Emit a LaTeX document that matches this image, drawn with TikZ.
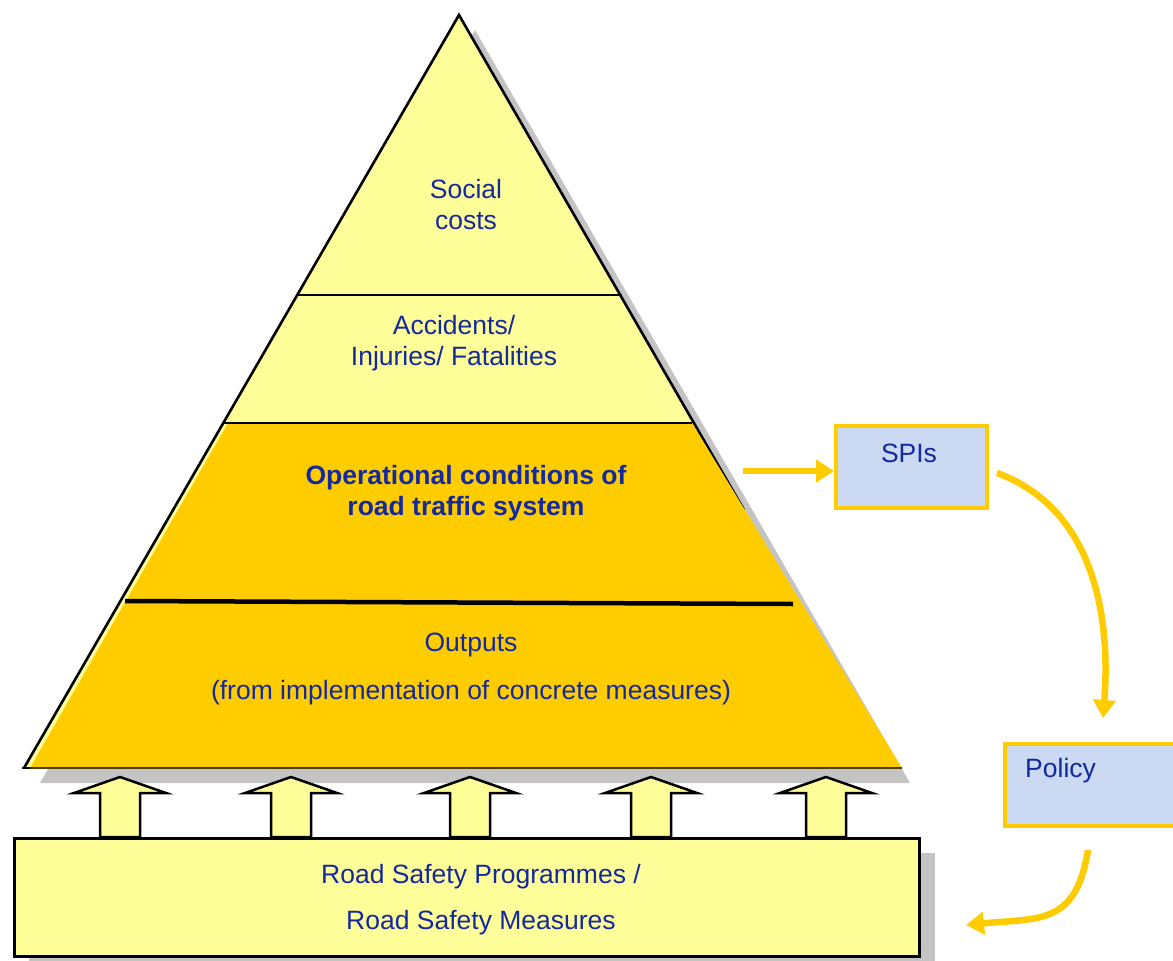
\documentclass[tikz,border=0pt]{standalone}
\usepackage{fontspec}
\setmainfont{Liberation Sans}
\usetikzlibrary{arrows.meta}
\definecolor{lyellow}{HTML}{FFFF99}
\definecolor{gold}{HTML}{FFCC00}
\definecolor{shadowgray}{HTML}{C4C4C4}
\definecolor{txtblue}{RGB}{20,40,160}
\definecolor{lblue}{HTML}{CCD9F3}
\tikzset{
  lbl/.style={text=txtblue, font=\fontsize{26.5}{31}\selectfont, align=center, inner sep=0pt},
  upar/.style={fill=lyellow, draw=black, line width=2.5pt, line join=miter},
  bluebox/.style={fill=lblue, draw=gold, line width=4pt, inner sep=0pt, anchor=north west},
  flow/.style={draw=gold, line width=6.5pt, -{Triangle[length=18pt,width=22pt]}},
}
\begin{document}
\begin{tikzpicture}[x=1pt,y=-1pt]
\useasboundingbox (0,0) rectangle (1173,961);
\begin{scope}
\clip (0,0) rectangle (1173,961);
% pyramid shadow
\fill[shadowgray] (475,30) -- (40,783) -- (910,783) -- cycle;
% pyramid body
\fill[lyellow] (459,15) -- (24,768) -- (894,768) -- cycle;
\draw[black, line width=2.6pt, line join=miter] (744,510) -- (459,15) -- (24,768);
\fill[gold] (228,423) -- (692,423) -- (902,768) -- (30,768) -- cycle;
\draw[black, line width=2.6pt] (22,768) -- (30,768);
\draw[black!70!gold, line width=1.5pt] (30,768) -- (902,768);
\draw[black, line width=1.5pt] (297,295) -- (622,295);
\draw[black, line width=1.5pt] (224,423) -- (692,423);
\draw[black, line width=4.5pt] (125,601) -- (793,604);
% pyramid texts
\node[lbl] (social) at (466,205) {Social\\costs};
\node[lbl] (acc) at (454,343) {Accidents/\\Injuries/ Fatalities};
\node[lbl, font=\fontsize{26.5}{31}\bfseries] (oper) at (466,493) {Operational conditions of\\road traffic system};
\node[lbl] (outp) at (471,669) {Outputs\\[17pt](from implementation of concrete measures)};
% bottom box shadow
\fill[shadowgray] (29,853) rectangle (935,975);
% up arrows
\foreach \c/\n in {120/a1,291/a2,470/a3,651/a4,826/a5}{
  \draw[upar] (\c-20,837) -- (\c-20,793) -- (\c-46,793) -- (\c,777) -- (\c+46,793) -- (\c+20,793) -- (\c+20,837) -- cycle;
}
% bottom box
\node[fill=lyellow, draw=black, line width=3pt, minimum width=905pt, minimum height=118pt, inner sep=0pt, anchor=north west] (rsp) at (13,837) {};
\node[lbl] (rsptxt) at (481,900) {Road Safety Programmes /\\[15pt]Road Safety Measures};
% SPI and policy boxes
\node[bluebox, minimum width=151pt, minimum height=82pt] (spi) at (834,424) {};
\node[lbl] (spitxt) at (909,453) {SPIs};
\node[bluebox, minimum width=190pt, minimum height=82pt] (pol) at (1003,742) {};
\node[lbl, anchor=west] (poltxt) at (1025,771) {Policy};
% connectors
\coordinate (pyr) at (743,471);
\coordinate (s1) at (997,473);
\coordinate (p1) at (1103,718);
\coordinate (p2) at (1088,850);
\coordinate (r1) at (966,925);
\draw[flow] (pyr) -- (spi.west |- pyr);
\draw[flow] (s1) .. controls (1085,505) and (1112,600) .. (p1);
\draw[flow] (p2) .. controls (1076,925) and (1040,918) .. (r1);
\end{scope}
\end{tikzpicture}
\end{document}
